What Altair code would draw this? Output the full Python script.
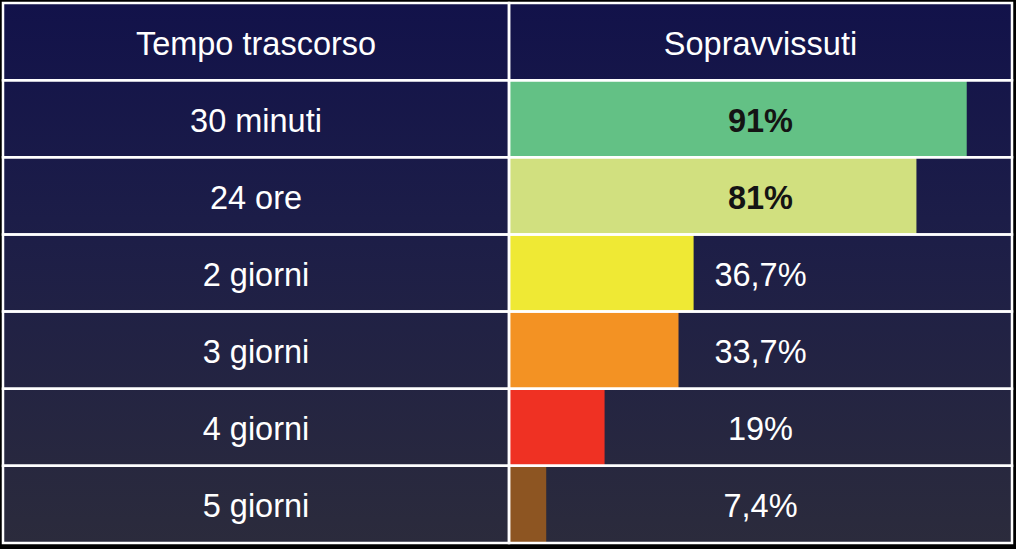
import altair as alt
import pandas as pd

header_left = "Tempo trascorso"
header_right = "Sopravvissuti"
periods = ["30 minuti", "24 ore", "2 giorni", "3 giorni", "4 giorni", "5 giorni"]
survivors = [91, 81, 36.7, 33.7, 19, 7.4]
value_labels = ["91%", "81%", "36,7%", "33,7%", "19%", "7,4%"]
bar_colors = ["#63c185", "#d1e07f", "#efe934", "#f39223", "#ef3123", "#8d5522"]
bold_labels = [True, True, False, False, False, False]

rows = [header_left] + periods
W, H = 1009, 540
LEFT_MIN, RIGHT_MAX = -100.6, 100
FONT = "Liberation Sans"
FS = 32.5
DY = 3

x_scale = alt.Scale(domain=[LEFT_MIN, RIGHT_MAX], nice=False, zero=False)
y_scale = alt.Scale(domain=rows, paddingInner=0, paddingOuter=0)

bars_df = pd.DataFrame({"row": periods, "value": survivors, "color": bar_colors,
                        "label": value_labels, "bold": bold_labels})
cells_df = pd.DataFrame({
    "row": rows * 2,
    "x0": [LEFT_MIN] * len(rows) + [0] * len(rows),
    "x1": [0] * len(rows) + [RIGHT_MAX] * len(rows),
})
left_text_df = pd.DataFrame({"row": rows, "label": rows})
header_right_df = pd.DataFrame({"row": [header_left], "label": [header_right]})

bg = alt.Chart(pd.DataFrame({"a": [0]})).mark_rect(
    color=alt.Gradient(
        gradient="linear",
        stops=[alt.GradientStop(color="#12124a", offset=0),
               alt.GradientStop(color="#1c1d48", offset=0.4),
               alt.GradientStop(color="#2b2b3c", offset=1)],
        x1=0, x2=0, y1=0, y2=1,
    )
).encode(x=alt.value(0), x2=alt.value(W), y=alt.value(0), y2=alt.value(H))

bars = alt.Chart(bars_df).mark_rect().encode(
    x=alt.X("value:Q", scale=x_scale, axis=None),
    x2=alt.datum(0),
    y=alt.Y("row:N", scale=y_scale, axis=None),
    color=alt.Color("color:N", scale=None),
)

cells = alt.Chart(cells_df).mark_rect(
    fillOpacity=0, stroke="white", strokeWidth=2.5
).encode(
    x=alt.X("x0:Q", scale=x_scale, axis=None),
    x2="x1:Q",
    y=alt.Y("row:N", scale=y_scale, axis=None),
)

left_text = alt.Chart(left_text_df).mark_text(
    font=FONT, fontSize=FS, color="white", baseline="middle", align="center", dy=DY
).encode(
    x=alt.datum((LEFT_MIN) / 2, scale=x_scale),
    y=alt.Y("row:N", scale=y_scale, axis=None),
    text="label:N",
)

header_right_text = alt.Chart(header_right_df).mark_text(
    font=FONT, fontSize=FS, color="white", baseline="middle", align="center", dy=DY
).encode(
    x=alt.datum(RIGHT_MAX / 2),
    y=alt.Y("row:N", scale=y_scale, axis=None),
    text="label:N",
)

bold_text = alt.Chart(bars_df).transform_filter("datum.bold").mark_text(
    font=FONT, fontSize=FS, fontWeight="bold", color="#141414",
    baseline="middle", align="center", dy=DY
).encode(
    x=alt.datum(RIGHT_MAX / 2),
    y=alt.Y("row:N", scale=y_scale, axis=None),
    text="label:N",
)

plain_text = alt.Chart(bars_df).transform_filter("!datum.bold").mark_text(
    font=FONT, fontSize=FS, color="white", baseline="middle", align="center", dy=DY
).encode(
    x=alt.datum(RIGHT_MAX / 2),
    y=alt.Y("row:N", scale=y_scale, axis=None),
    text="label:N",
)

chart = alt.layer(
    bg, bars, cells, left_text, header_right_text, bold_text, plain_text
).properties(
    width=W, height=H,
    background="black",
    padding={"left": 3, "top": 3, "right": 4, "bottom": 6},
    autosize=alt.AutoSizeParams(type="none"),
).configure_view(stroke=None)

chart.save("out.html", embed_options={"renderer": "svg", "actions": False})
